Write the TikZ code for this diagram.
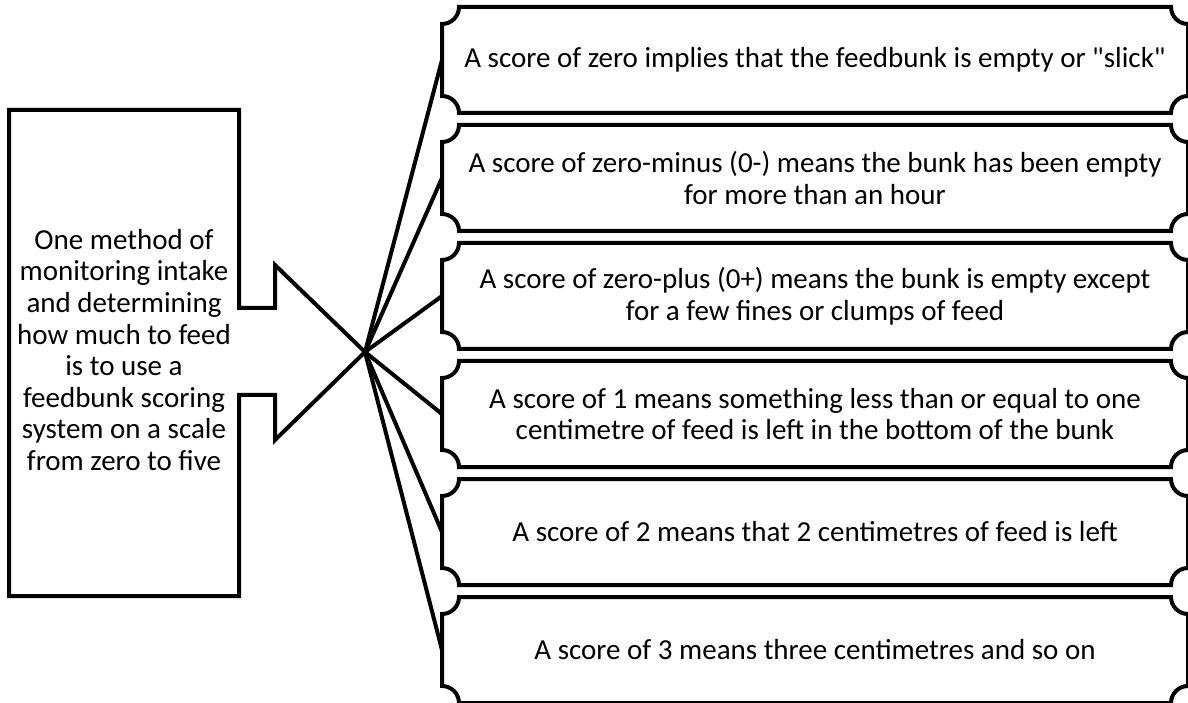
\documentclass[tikz,border=0pt]{standalone}
\usepackage{fontspec}
\setmainfont{Carlito}[Ligatures=TeXOff]
\usepackage{tikz}

\begin{document}
\begin{tikzpicture}[x=0.5pt,y=0.5pt,line width=2pt,
  scorebox/.style={minimum width=371pt,minimum height=51pt,inner sep=0pt,align=center},
  link/.style={line join=round}]
  \useasboundingbox (0,0) rectangle (1188,702);
  \fontsize{14.5}{15.8}\selectfont
  % left box with the arrow
  \draw (9,592) -- (239,592) -- (239,394) -- (275,394) -- (275,437) -- (365,350)
    -- (275,262) -- (275,307) -- (239,307) -- (239,106) -- (9,106) -- cycle;
  \coordinate (tip) at (365,350);
  \node[align=center] (intro) at (124,352) {One method of\\monitoring intake\\and determining\\how much to feed\\is to use a\\feedbunk scoring\\system on a scale\\from zero to five};
  % scores
  \node[scorebox] (s1) at (815,642) {A score of zero implies that the feedbunk is empty or "slick"};
  \node[scorebox] (s2) at (815,524) {A score of zero-minus (0-) means the bunk has been empty\\for more than an hour};
  \node[scorebox] (s3) at (815,406) {A score of zero-plus (0+) means the bunk is empty except\\for a few fines or clumps of feed};
  \node[scorebox] (s4) at (815,288) {A score of 1 means something less than or equal to one\\centimetre of feed is left in the bottom of the bunk};
  \node[scorebox] (s5) at (815,170) {A score of 2 means that 2 centimetres of feed is left};
  \node[scorebox] (s6) at (815,52) {A score of 3 means three centimetres and so on};
  \foreach \b in {s1,s2,s3,s4,s5,s6} {
    \draw ([xshift=8.5pt]\b.north west) -- ([xshift=-8.5pt]\b.north east)
      arc[start angle=180,end angle=270,radius=8.5pt] -- ([yshift=8.5pt]\b.south east)
      arc[start angle=90,end angle=180,radius=8.5pt] -- ([xshift=8.5pt]\b.south west)
      arc[start angle=0,end angle=90,radius=8.5pt] -- ([yshift=-8.5pt]\b.north west)
      arc[start angle=270,end angle=360,radius=8.5pt] -- cycle;
    \draw[link] (tip) -- (\b.west);
  }
\end{tikzpicture}
\end{document}
